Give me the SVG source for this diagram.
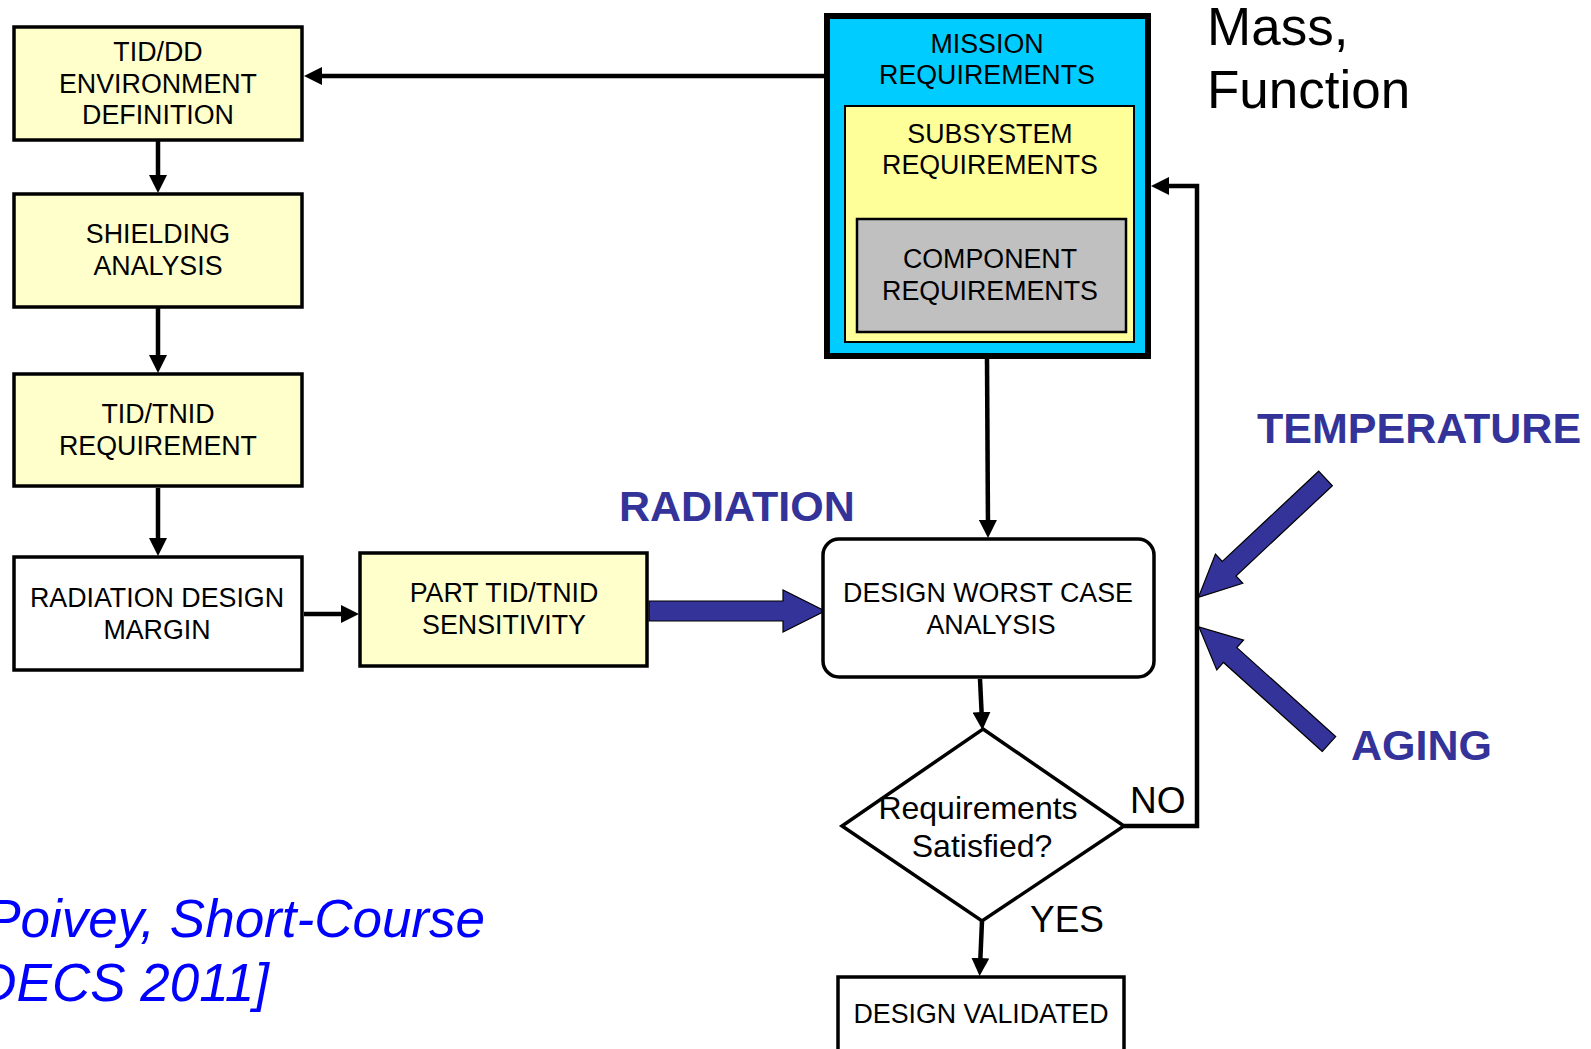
<svg xmlns="http://www.w3.org/2000/svg" width="1591" height="1049" viewBox="0 0 1591 1049">
<style>
.box{fill:#FFFFCC;stroke:#000;stroke-width:3.5}
.wbox{fill:#FFFFFF;stroke:#000;stroke-width:3.5}
.t{font-family:"Liberation Sans",Arial,sans-serif;font-size:26.8px;text-anchor:middle;fill:#000}
.big{font-family:"Liberation Sans",Arial,sans-serif;font-size:43px;font-weight:bold;fill:#333399}
.lbl{font-family:"Liberation Sans",Arial,sans-serif;font-size:37px;fill:#000}
.mf{font-family:"Liberation Sans",Arial,sans-serif;font-size:53px;fill:#000}
.cite{font-family:"Liberation Sans",Arial,sans-serif;font-size:53px;font-style:italic;fill:#0000FF;text-anchor:end}
.con{fill:none;stroke:#000;stroke-width:4.5}
.arr{marker-end:url(#head)}
.blk{fill:#333399;stroke:#000;stroke-width:1.2}
</style>
<defs>
<marker id="head" markerUnits="userSpaceOnUse" markerWidth="18" markerHeight="18" refX="9" refY="9" orient="auto">
<path d="M0,0 L18,9 L0,18 z" fill="#000"/>
</marker>
</defs>
<rect width="1591" height="1049" fill="#fff"/>

<g id="connectors">
<line class="con arr" x1="824" y1="76" x2="313" y2="76"/>
<line class="con arr" x1="158" y1="141" x2="158" y2="184"/>
<line class="con arr" x1="158" y1="308" x2="158" y2="364"/>
<line class="con arr" x1="158" y1="488" x2="158" y2="547"/>
<line class="con arr" x1="304" y1="614" x2="350" y2="614"/>
<line class="con arr" x1="987" y1="359" x2="988" y2="529"/>
<line class="con arr" x1="980" y1="679" x2="982" y2="721"/>
<line class="con arr" x1="982" y1="921" x2="980" y2="967"/>
<polyline class="con arr" points="1124,826 1197,826 1197,186 1160,186"/>
<polygon id="radiation-arrow" class="blk" points="649,601 783,601 783,590 825,611 783,632 783,621 649,621"/>
<polygon id="temperature-arrow" class="blk" points="0,-10 132,-10 132,-20 174,0 132,20 132,10 0,10" transform="translate(1325.5,478.5) rotate(136.9)"/>
<polygon id="aging-arrow" class="blk" points="0,-10 133,-10 133,-20 175,0 133,20 133,10 0,10" transform="translate(1329,744) rotate(-138)"/>
</g>

<g id="tid-dd">
<rect class="box" x="14" y="27" width="288" height="113"/>
<text class="t" x="158" y="61">TID/DD</text>
<text class="t" x="158" y="93">ENVIRONMENT</text>
<text class="t" x="158" y="124">DEFINITION</text>
</g>
<g id="shielding">
<rect class="box" x="14" y="194" width="288" height="113"/>
<text class="t" x="158" y="243">SHIELDING</text>
<text class="t" x="158" y="275">ANALYSIS</text>
</g>
<g id="tid-tnid">
<rect class="box" x="14" y="374" width="288" height="112"/>
<text class="t" x="158" y="423">TID/TNID</text>
<text class="t" x="158" y="455">REQUIREMENT</text>
</g>
<g id="rdm">
<rect class="wbox" x="14" y="557" width="288" height="113"/>
<text class="t" x="157" y="607">RADIATION DESIGN</text>
<text class="t" x="157" y="639">MARGIN</text>
</g>
<g id="part">
<rect class="box" x="360" y="553" width="287" height="113"/>
<text class="t" x="504" y="602">PART TID/TNID</text>
<text class="t" x="504" y="634">SENSITIVITY</text>
</g>

<g id="mission">
<rect x="827" y="16" width="321" height="340" fill="#00CCFF" stroke="#000" stroke-width="6"/>
<text class="t" x="987" y="53">MISSION</text>
<text class="t" x="987" y="84">REQUIREMENTS</text>
<g id="subsystem">
<rect x="845" y="106" width="289" height="236" fill="#FFFF99" stroke="#000" stroke-width="2"/>
<text class="t" x="990" y="143">SUBSYSTEM</text>
<text class="t" x="990" y="174">REQUIREMENTS</text>
</g>
<g id="component">
<rect x="857" y="219" width="269" height="113" fill="#C0C0C0" stroke="#000" stroke-width="2.5"/>
<text class="t" x="990" y="268">COMPONENT</text>
<text class="t" x="990" y="300">REQUIREMENTS</text>
</g>
</g>

<g id="dwca">
<rect class="wbox" x="823" y="539" width="331" height="138" rx="16"/>
<text class="t" x="988" y="602">DESIGN WORST CASE</text>
<text class="t" x="991" y="634">ANALYSIS</text>
</g>
<g id="decision">
<polygon points="983,729 1124,826 982,921 842,826" fill="#fff" stroke="#000" stroke-width="3.5"/>
<text class="t" x="978" y="819" style="font-size:32px">Requirements</text>
<text class="t" x="982" y="857" style="font-size:32px">Satisfied?</text>
</g>
<g id="validated">
<rect class="wbox" x="838" y="977" width="286" height="100"/>
<text class="t" x="981" y="1023">DESIGN VALIDATED</text>
</g>

<g id="labels">
<text class="lbl" x="1130" y="813">NO</text>
<text class="lbl" x="1030" y="932">YES</text>
<text class="big" x="619" y="521">RADIATION</text>
<text class="big" x="1257" y="443">TEMPERATURE</text>
<text class="big" x="1351" y="760">AGING</text>
<text class="mf" x="1207" y="45">Mass,</text>
<text class="mf" x="1207" y="108">Function</text>
<text class="cite" x="485" y="937">Poivey, Short-Course</text>
<text class="cite" x="269" y="1001">DECS 2011]</text>
</g>
</svg>
